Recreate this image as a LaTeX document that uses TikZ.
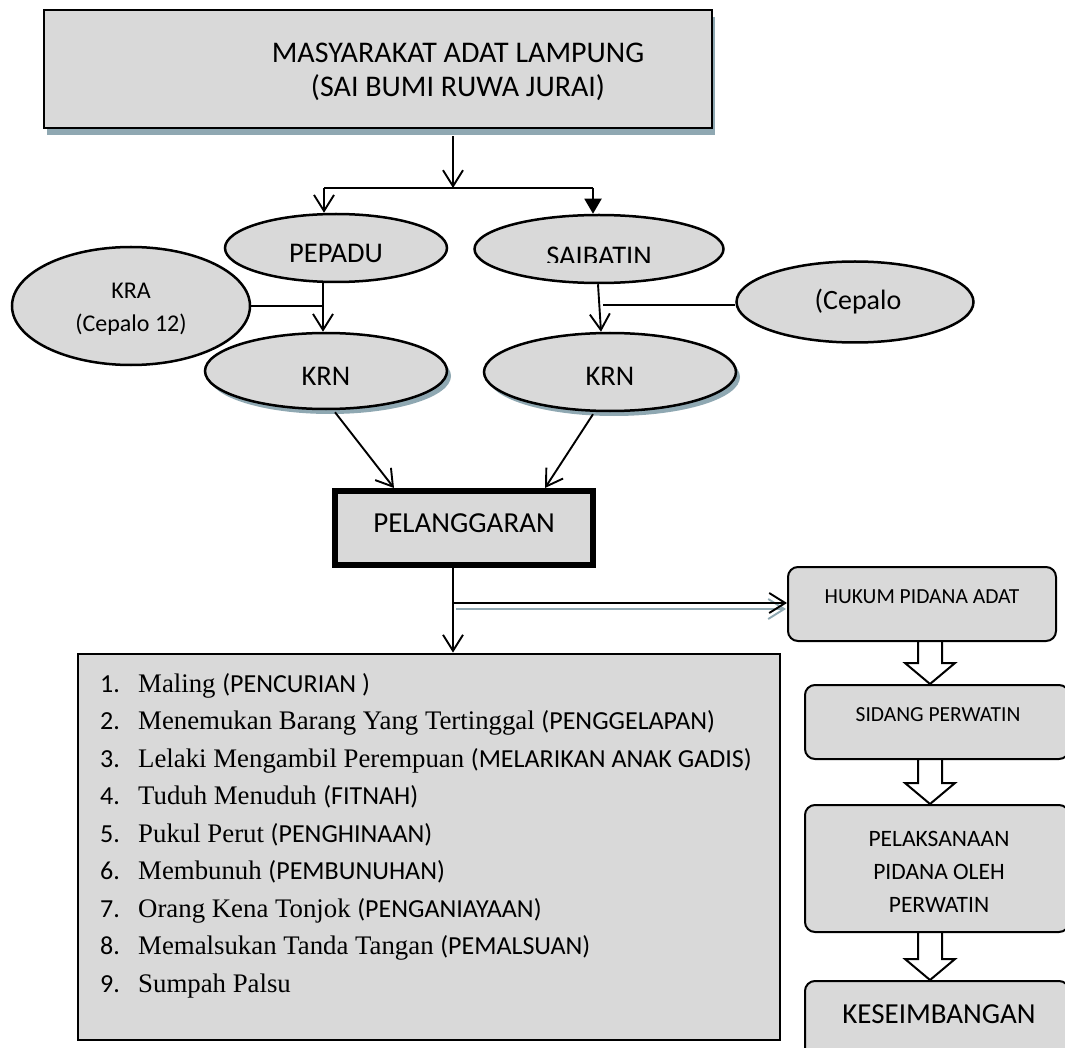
\documentclass[tikz,border=0pt]{standalone}
\usepackage{fontspec}
\setmainfont{Liberation Serif}
\newfontfamily\calfont{Carlito}
\usetikzlibrary{shapes.geometric,arrows.meta,shadows,calc}
\definecolor{boxgray}{HTML}{D9D9D9}
\definecolor{shadowc}{HTML}{8FA8B2}
\newcommand\fsz[1]{\fontsize{#1}{#1}\selectfont}
% block arrow between two stacked boxes of the right column
\newcommand\blockarr[2]{%
  \draw[barr] let \p1=(#1.south), \p2=(#2.north) in
    (918pt,\y1+1pt) -- (918pt,\y2+21pt) -- (905pt,\y2+21pt) -- (930pt,\y2)
    -- (955pt,\y2+21pt) -- (942pt,\y2+21pt) -- (942pt,\y1+1pt) -- cycle;}
\begin{document}
\begin{tikzpicture}[x=1pt,y=-1pt,
  box/.style={draw, line width=2.3pt, fill=boxgray, inner sep=0pt},
  rbox/.style={box, line width=2pt, rounded corners=10pt},
  ell/.style={ellipse, draw, line width=2.5pt, fill=boxgray, inner sep=0pt},
  lbl/.style={anchor=base, inner sep=0pt, font=\calfont\fsz{#1}},
  item/.style={anchor=base west, inner sep=0pt, font=\fsz{26.8}},
  num/.style={anchor=base west, inner sep=0pt, font=\calfont\fsz{26}},
  conn/.style={line width=1.9pt},
  vtip/.style={-{Straight Barb[length=16pt,width=20pt]}},
  ftip/.style={-{Triangle[length=15pt,width=17pt]}},
  topshadow/.style={drop shadow={shadow xshift=3pt, shadow yshift=-7pt, fill=shadowc, opacity=1}},
  krnshadow/.style={drop shadow={shadow xshift=4pt, shadow yshift=-5pt, fill=shadowc, opacity=1}},
  barr/.style={draw, line width=2pt, fill=white, line join=miter}]
\useasboundingbox (0,0) rectangle (1065,1048);
\clip (0,0) rectangle (1065,1048);

% header box
\node[box, topshadow, minimum width=668pt, minimum height=118pt] (top) at (378,69) {};
\node[lbl=30] (t1) at (458,63) {MASYARAKAT ADAT LAMPUNG};
\node[lbl=30] (t2) at (458,97) {(SAI BUMI RUWA JURAI)};

% two branches
\node[ell, minimum width=222pt, minimum height=68pt] (pepadu) at (336,248) {};
\node[lbl=28.5] (pepadut) at (336,263) {PEPADU};
\node[ell, minimum width=249pt, minimum height=68pt] (saibatin) at (599,249) {};
\begin{scope}
  \clip (530,235) rectangle (670,263);
  \node[lbl=28.5] (saibatint) at (599,265.5) {SAIBATIN};
\end{scope}

\node[ell, minimum width=238pt, minimum height=118pt] (kra) at (131,306) {};
\node[lbl=24] (krat1) at (131,299) {KRA};
\node[lbl=24] (krat2) at (131,332) {(Cepalo 12)};
\node[ell, minimum width=237pt, minimum height=81pt] (cepalo) at (855,302) {};
\node[lbl=28] (cepalot) at (858,310) {(Cepalo};

\node[ell, krnshadow, minimum width=242pt, minimum height=76pt] (krnL) at (326,371) {};
\node[lbl=28.5] (krnLt) at (326,385) {KRN};
\node[ell, krnshadow, minimum width=252pt, minimum height=78pt] (krnR) at (610,372) {};
\node[lbl=28.5] (krnRt) at (610,385) {KRN};

% offence box
\node[draw, line width=6pt, fill=boxgray, inner sep=0pt, minimum width=258pt, minimum height=74pt] (pel) at (464,528) {};
\node[lbl=29] (pelt) at (464,532) {PELANGGARAN};

% list of offences
\node[box, line width=2.8pt, minimum width=702pt, minimum height=386pt] (list) at (429,847) {};
\node[num] (n1) at (100,692) {1.};
\node[num] (n2) at (100,729.5) {2.};
\node[num] (n3) at (100,767) {3.};
\node[num] (n4) at (100,804.5) {4.};
\node[num] (n5) at (100,842) {5.};
\node[num] (n6) at (100,879.5) {6.};
\node[num] (n7) at (100,917) {7.};
\node[num] (n8) at (100,954.5) {8.};
\node[num] (n9) at (100,992) {9.};
\node[item] (i1) at (138,692) {Maling {\calfont\fsz{26}(PENCURIAN )}};
\node[item] (i2) at (138,729.5) {Menemukan Barang Yang Tertinggal {\calfont\fsz{26}(PENGGELAPAN)}};
\node[item] (i3) at (138,767) {Lelaki Mengambil Perempuan {\calfont\fsz{26}(MELARIKAN ANAK GADIS)}};
\node[item] (i4) at (138,804.5) {Tuduh Menuduh {\calfont\fsz{26}(FITNAH)}};
\node[item] (i5) at (138,842) {Pukul Perut {\calfont\fsz{26}(PENGHINAAN)}};
\node[item] (i6) at (138,879.5) {Membunuh {\calfont\fsz{26}(PEMBUNUHAN)}};
\node[item] (i7) at (138,917) {Orang Kena Tonjok {\calfont\fsz{26}(PENGANIAYAAN)}};
\node[item] (i8) at (138,954.5) {Memalsukan Tanda Tangan {\calfont\fsz{26}(PEMALSUAN)}};
\node[item] (i9) at (138,992) {Sumpah Palsu};

% right column
\node[rbox, minimum width=268pt, minimum height=74pt] (hukum) at (922,604) {};
\node[lbl=21.5] (hukumt) at (922,603) {HUKUM PIDANA ADAT};
\node[rbox, minimum width=264pt, minimum height=74pt] (sidang) at (937,722) {};
\node[lbl=21.5] (sidangt) at (938,721) {SIDANG PERWATIN};
\node[rbox, minimum width=264pt, minimum height=127pt] (pelak) at (937,868.5) {};
\node[lbl=23.5] (pelakt1) at (939,846) {PELAKSANAAN};
\node[lbl=23.5] (pelakt2) at (939,879) {PIDANA OLEH};
\node[lbl=23.5] (pelakt3) at (939,912) {PERWATIN};
\node[rbox, minimum width=264pt, minimum height=81pt] (kese) at (937,1021.5) {};
\node[lbl=29] (keset) at (939,1023) {KESEIMBANGAN};

\blockarr{hukum}{sidang}
\blockarr{sidang}{pelak}
\blockarr{pelak}{kese}

% connectors
\coordinate (split) at (453,188);
\coordinate (lft) at (324,188);
\coordinate (rgt) at (593,188);
\coordinate (jl) at (323,305);
\coordinate (jr) at (601,305);
\coordinate (jd) at (453,603);

\draw[conn, vtip] ($(split |- top.south)+(0,7)$) -- (split);
\draw[conn] (lft) -- (rgt);
\draw[conn, vtip] (lft) -- (lft |- pepadu.north);
\draw[conn, ftip] (rgt) -- (rgt |- saibatin.north);

\draw[conn, vtip] (jl |- pepadu.south) -- (jl |- krnL.north);
\draw[conn] (kra.east) -- (kra.east -| jl);
\draw[conn, vtip] ($(saibatin.south)+(-1,0)$) -- (jr |- krnR.north);
\draw[conn] ($(jr)+(2,0)$) -- (jr -| cepalo.west);

\draw[conn, vtip] ($(krnL.south)+(9,2)$) -- ($(pel.north west)+(62,0)$);
\draw[conn, vtip] ($(krnR.south)+(-17,2)$) -- ($(pel.north east)+(-51,0)$);

\draw[conn, vtip] (jd |- pel.south) -- (jd |- list.north);
\draw[conn, shadowc, vtip] ($(jd)+(3,6)$) -- ($(jd -| hukum.west)+(-1,6)$);
\draw[conn, vtip] (jd) -- (jd -| hukum.west);
\end{tikzpicture}
\end{document}
